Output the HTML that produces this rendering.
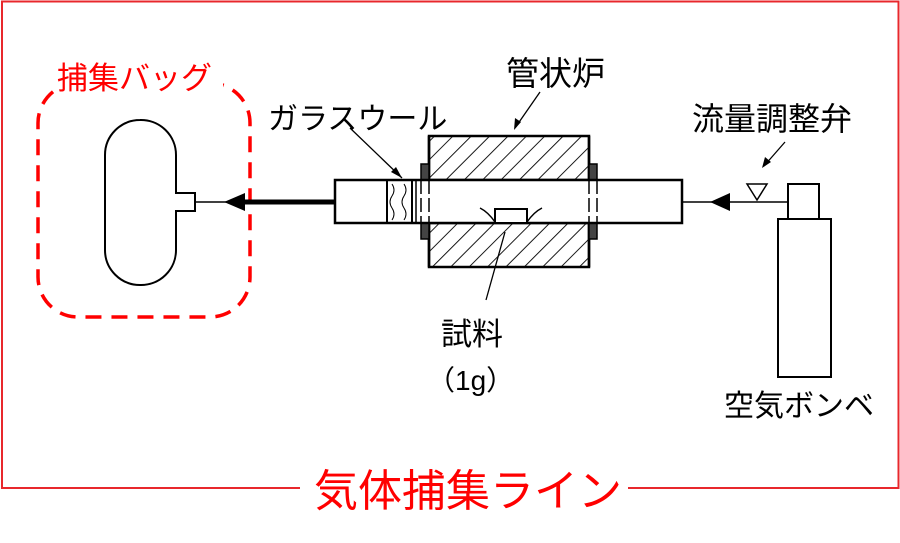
<!DOCTYPE html>
<html><head><meta charset="utf-8"><style>
html,body{margin:0;padding:0;background:#fff;}
svg{display:block;}
text{font-family:"Liberation Sans","Noto Sans CJK JP",sans-serif;}
</style></head><body>
<svg width="900" height="543" viewBox="0 0 900 543" xmlns="http://www.w3.org/2000/svg">
<defs>
<pattern id="h" patternUnits="userSpaceOnUse" width="13" height="13" patternTransform="rotate(45)">
<line x1="0" y1="0" x2="0" y2="13" stroke="#000" stroke-width="1.8"/>
</pattern>
</defs>
<path d="M300 488 L2 488 L2 1.5 L898.5 1.5 L898.5 488 L628 488" fill="none" stroke="#e8282c" stroke-width="2"/>
<text x="314" y="506" font-size="44" fill="#ff0000">気体捕集ライン</text>

<rect x="38" y="83" width="212" height="234" rx="40" fill="none" stroke="#ff0000" stroke-width="3.5" stroke-dasharray="16,10"/>
<rect x="55" y="58" width="168" height="36" fill="#fff"/>
<text x="57" y="89" font-size="31" fill="#ff0000">捕集バッグ</text>
<path d="M140 120 A35 35 0 0 1 176 155 L176 193 L195 193 L195 211 L176 211 L176 250 A35 35 0 0 1 140 285 A35 35 0 0 1 105 250 L105 155 A35 35 0 0 1 140 120 Z" fill="#fff" stroke="#000" stroke-width="2"/>
<line x1="195" y1="202" x2="228" y2="202" stroke="#000" stroke-width="1.5"/>
<polygon points="224,202 245,193 245,211" fill="#000"/>
<line x1="245" y1="202" x2="335" y2="202" stroke="#000" stroke-width="5"/>

<rect x="429" y="136" width="160" height="44" fill="url(#h)" stroke="#000" stroke-width="2.5"/>
<rect x="429" y="223" width="160" height="44" fill="url(#h)" stroke="#000" stroke-width="2.5"/>
<line x1="429" y1="136" x2="429" y2="267" stroke="#000" stroke-width="2.5"/>
<line x1="589" y1="136" x2="589" y2="267" stroke="#000" stroke-width="2.5"/>
<rect x="421" y="164" width="8" height="16" fill="#444" stroke="#000" stroke-width="1.5"/>
<rect x="421" y="223" width="8" height="16" fill="#444" stroke="#000" stroke-width="1.5"/>
<rect x="589" y="164" width="8" height="16" fill="#444" stroke="#000" stroke-width="1.5"/>
<rect x="589" y="223" width="8" height="16" fill="#444" stroke="#000" stroke-width="1.5"/>
<rect x="335" y="180" width="347" height="43" fill="#fff" stroke="#000" stroke-width="2.5"/>
<line x1="387" y1="180" x2="387" y2="223" stroke="#000" stroke-width="2"/>
<line x1="412" y1="180" x2="412" y2="223" stroke="#000" stroke-width="2"/>
<line x1="416" y1="180" x2="416" y2="223" stroke="#000" stroke-width="1.5"/>
<path d="M392 184 q4 6 0 12 q-4 6 0 12 q4 6 0 12" fill="none" stroke="#000" stroke-width="1"/>
<path d="M404 184 q4 6 0 12 q-4 6 0 12 q4 6 0 12" fill="none" stroke="#000" stroke-width="1"/>
<line x1="421" y1="180" x2="421" y2="223" stroke="#000" stroke-width="1.5" stroke-dasharray="14,4"/>
<line x1="429" y1="180" x2="429" y2="223" stroke="#000" stroke-width="1.5" stroke-dasharray="14,4"/>
<line x1="589" y1="180" x2="589" y2="223" stroke="#000" stroke-width="1.5" stroke-dasharray="14,4"/>
<line x1="597" y1="180" x2="597" y2="223" stroke="#000" stroke-width="1.5" stroke-dasharray="14,4"/>
<rect x="495" y="209" width="32" height="14" fill="#fff" stroke="#000" stroke-width="2"/>
<path d="M480 208 q8 4 15 14" fill="none" stroke="#000" stroke-width="1.5"/>
<path d="M542 208 q-8 4 -15 14" fill="none" stroke="#000" stroke-width="1.5"/>

<line x1="350" y1="128" x2="402" y2="178" stroke="#000" stroke-width="1.3"/>
<polygon points="402,178 391,172 396,167" fill="#000"/>
<line x1="540" y1="92" x2="515" y2="128" stroke="#000" stroke-width="1.3"/>
<polygon points="514,130 515,118 521,122" fill="#000"/>
<line x1="505" y1="232" x2="486" y2="300" stroke="#000" stroke-width="1.3"/>
<line x1="785" y1="142" x2="764" y2="166" stroke="#000" stroke-width="1.3"/>
<polygon points="762,168 765,157 771,162" fill="#000"/>

<line x1="682" y1="202" x2="788" y2="202" stroke="#000" stroke-width="1.5"/>
<polygon points="710,202 730,193 730,211" fill="#000"/>
<polygon points="747,184 767,184 757,200" fill="#fff" stroke="#000" stroke-width="1.5"/>
<rect x="788" y="184" width="31" height="35" fill="#fff" stroke="#000" stroke-width="2"/>
<rect x="778" y="219" width="53" height="158" fill="#fff" stroke="#000" stroke-width="2"/>

<text x="268" y="129" font-size="30" fill="#000">ガラスウール</text>
<text x="506" y="85" font-size="33" fill="#000">管状炉</text>
<text x="692" y="130" font-size="32" fill="#000">流量調整弁</text>
<text x="441" y="345" font-size="31" fill="#000">試料</text>
<text x="427" y="390" font-size="28" fill="#000">（1g）</text>
<text x="724" y="416" font-size="30" fill="#000">空気ボンベ</text>
</svg>
</body></html>
